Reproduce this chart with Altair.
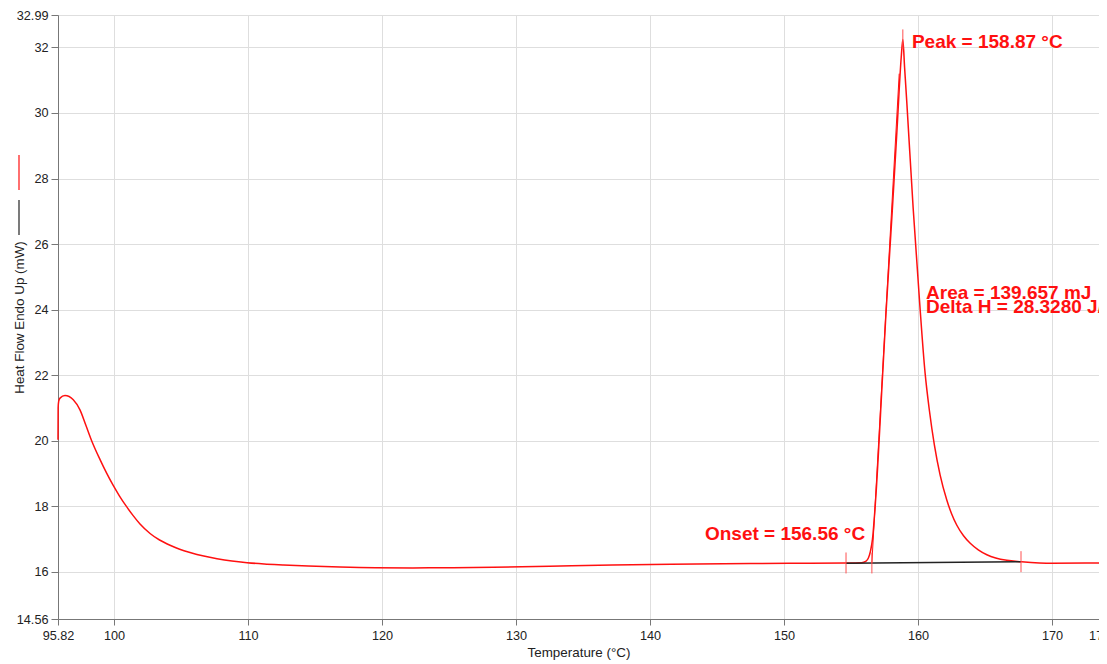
import altair as alt
import pandas as pd

# --- measured heat-flow curve (red) ---
temp = [95.82, 95.83, 95.87, 95.97, 96.34, 96.96, 97.46, 97.9, 98.33, 98.95,
        99.45, 99.92, 100.4, 100.9, 101.4, 101.94, 102.69, 103.4, 104.18,
        104.9, 105.67, 106.7, 107.69, 108.8, 109.93, 111.2, 112.6, 114.5,
        116.86, 119.5, 122.3, 125.3, 128.3, 132.5, 137.2, 143.5, 150.4, 154.6,
        155.8, 156.1, 156.3, 156.45, 156.6, 156.84, 157.36, 157.6, 158.08,
        158.45, 158.75, 158.87, 159.0, 159.17, 159.64, 160.11, 160.53, 160.85,
        161.22, 161.65, 162.15, 162.5, 162.9, 163.4, 163.9, 164.5, 165.14,
        165.8, 166.63, 167.7, 170.0, 173.51]
heat = [20.03, 21.0, 21.2, 21.3, 21.38, 21.25, 20.94, 20.47, 20.0, 19.43,
        19.01, 18.65, 18.32, 18.01, 17.73, 17.46, 17.17, 16.97, 16.81,
        16.69, 16.59, 16.48, 16.40, 16.33, 16.28, 16.24, 16.21, 16.175,
        16.145, 16.125, 16.12, 16.125, 16.14, 16.17, 16.21, 16.235, 16.26, 16.27,
        16.28, 16.32, 16.42, 16.62, 16.98, 18.2, 22.0, 23.8, 27.0,
        29.6, 31.7, 32.24, 31.4, 30.3, 27.1, 24.3, 22.07, 20.93,
        19.88, 18.96, 18.19, 17.78, 17.42, 17.10, 16.87, 16.67, 16.52,
        16.42, 16.35, 16.31, 16.26, 16.27]

# --- integration baseline (black) ---
base_t = [154.63, 167.69]
base_h = [16.26, 16.31]

# --- onset tangent ---
tan_t = [156.56, 158.6]
tan_h = [16.27, 31.2]

# --- limit / peak tick marks ---
tick_t = [154.63, 156.56, 167.69, 158.87]
tick_lo = [15.95, 15.95, 15.99, 31.95]
tick_hi = [16.59, 16.59, 16.63, 32.55]

# --- annotations ---
ann_text = ["Peak = 158.87 °C", "Onset = 156.56 °C", "Area = 139.657 mJ",
            "Delta H = 28.3280 J/g"]
ann_t = [159.55, 144.1, 160.6, 160.6]
ann_h = [31.98, 16.97, 24.32, 23.89]

x_ticks = [95.82, 100, 110, 120, 130, 140, 150, 160, 170, 173.51]
y_ticks = [14.56, 16, 18, 20, 22, 24, 26, 28, 30, 32, 32.99]

FONT = "Liberation Sans"
RED = "#ff1010"

curve_df = pd.DataFrame({"t": temp, "h": heat})
base_df = pd.DataFrame({"t": base_t, "h": base_h})
tan_df = pd.DataFrame({"t": tan_t, "h": tan_h})
tick_df = pd.DataFrame({"t": tick_t, "h": tick_lo, "h2": tick_hi})
ann_df = pd.DataFrame({"t": ann_t, "h": ann_h, "label": ann_text})
dummy = pd.DataFrame({"a": [0]})

xscale = alt.Scale(domain=[95.82, 173.51], nice=False, zero=False)
yscale = alt.Scale(domain=[14.56, 32.99], nice=False, zero=False)

xaxis = alt.Axis(
    values=x_ticks, title="Temperature (°C)",
    labelExpr="toString(datum.value)",
    labelFlush=False, labelOverlap=False,
    labelOffset={"condition": {"test": "datum.value > 173", "value": 9}, "value": 0},
    grid=True, gridColor="#dedede", gridWidth=1,
    domainColor="#777", tickColor="#777", tickSize=6,
    labelFont=FONT, labelFontSize=12.7, labelColor="#222", labelPadding=4,
    titleFont=FONT, titleFontSize=13.4, titleFontWeight="normal", titleColor="#222",
    titleY=33, titleBaseline="middle",
)
yaxis = alt.Axis(
    values=y_ticks, title="Heat Flow Endo Up (mW)",
    labelExpr="toString(datum.value)",
    labelOverlap=False,
    grid=True, gridColor="#dedede", gridWidth=1,
    domainColor="#777", tickColor="#777", tickSize=7,
    labelFont=FONT, labelFontSize=12.7, labelColor="#222", labelPadding=3,
    titleFont=FONT, titleFontSize=13.4, titleFontWeight="normal", titleColor="#222",
    titleX=-39, titleY=302, titleBaseline="middle",
)

X = alt.X("t:Q", scale=xscale, axis=xaxis)
Y = alt.Y("h:Q", scale=yscale, axis=yaxis)

curve = alt.Chart(curve_df).mark_line(
    color=RED, strokeWidth=1.5, interpolate="monotone"
).encode(x=X, y=Y, order="t:Q")

baseline = alt.Chart(base_df).mark_line(color="#222", strokeWidth=1.5).encode(x=X, y=Y)

tangent = alt.Chart(tan_df).mark_line(color=RED, strokeWidth=1).encode(x=X, y=Y)

ticks = alt.Chart(tick_df).mark_rule(color="#ff5050", strokeWidth=1).encode(
    x=X, y=Y, y2="h2:Q"
)

ann = alt.Chart(ann_df).mark_text(
    align="left", baseline="alphabetic", font=FONT, fontSize=19,
    fontWeight="bold", color=RED
).encode(x=X, y=Y, text="label:N")

leg_red = alt.Chart(dummy).mark_rule(color=RED, strokeWidth=1.2).encode(
    x=alt.value(-39), y=alt.value(140), y2=alt.value(175)
)
leg_black = alt.Chart(dummy).mark_rule(color="#222", strokeWidth=1.2).encode(
    x=alt.value(-39), y=alt.value(185), y2=alt.value(220)
)

chart = alt.layer(curve, baseline, tangent, ticks, ann, leg_red, leg_black).properties(
    width=1041, height=604,
    padding={"left": 50, "top": 7, "right": 0, "bottom": 45},
    autosize=alt.AutoSizeParams(type="none"),
).configure_view(stroke=None).configure(font=FONT)

chart.save("out.html", embed_options={"renderer": "svg", "actions": False})
